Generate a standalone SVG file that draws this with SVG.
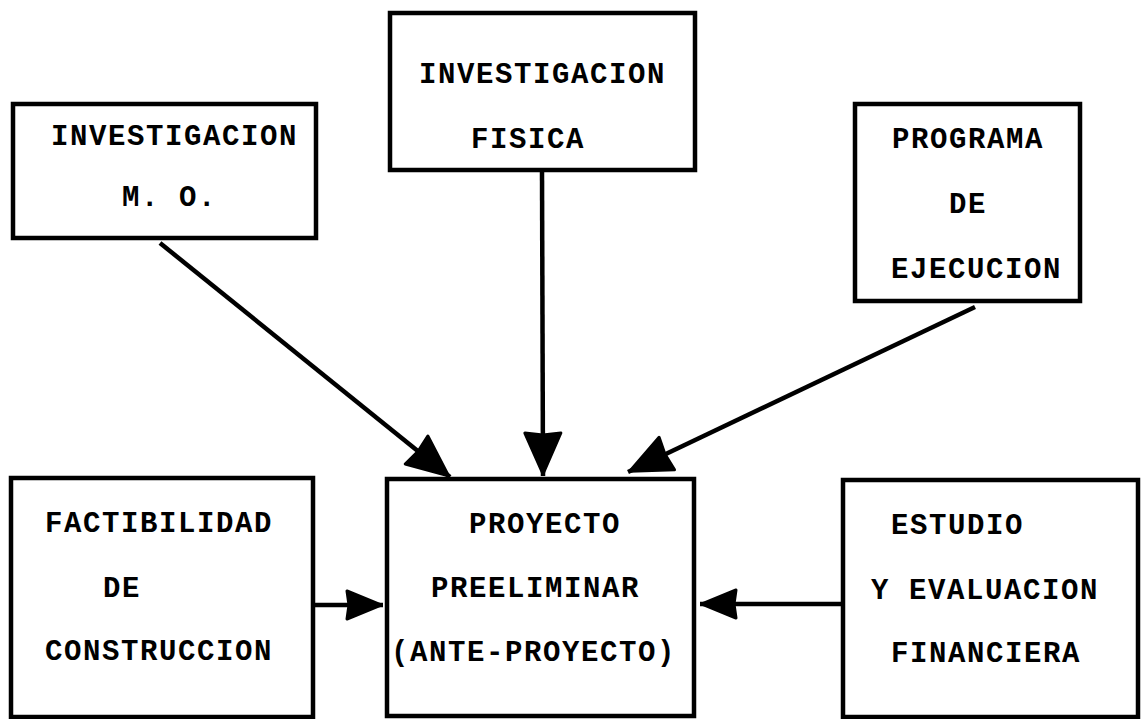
<svg xmlns="http://www.w3.org/2000/svg" width="1142" height="719" viewBox="0 0 1142 719">
  <style>
    .box { fill: #fff; stroke: #000; stroke-width: 4.5; }
    .lbl { font-family: "Liberation Mono", "DejaVu Sans Mono", monospace; font-size: 29px; font-weight: bold; letter-spacing: 1.6px; fill: #000; }
    .wire { stroke: #000; stroke-width: 4.5; fill: none; }
    .big { marker-end: url(#head); }
    .small { marker-end: url(#head-s); }
    .tip { fill: #000; stroke: #000; stroke-width: 3; stroke-linejoin: round; }
  </style>
  <defs>
    <!-- broad solid arrowheads with blunt corners -->
    <marker id="head" markerUnits="userSpaceOnUse" markerWidth="52" markerHeight="46" refX="46" refY="21" orient="auto">
      <path class="tip" d="M3,3 L44,21 L3,39 L5,21 z"/>
    </marker>
    <marker id="head-s" markerUnits="userSpaceOnUse" markerWidth="44" markerHeight="38" refX="39" refY="17" orient="auto">
      <path class="tip" d="M3,3 L37,17 L3,31 L5,17 z"/>
    </marker>
  </defs>

  <g id="connectors">
    <line class="wire big" x1="160" y1="243" x2="450" y2="477"/>
    <line class="wire big" x1="542" y1="170" x2="543" y2="476"/>
    <line class="wire big" x1="975" y1="307" x2="628" y2="472"/>
    <line class="wire small" x1="308" y1="605" x2="383" y2="605"/>
    <line class="wire small" x1="843" y1="604" x2="700" y2="604"/>
  </g>

  <g id="investigacion-mo">
    <rect class="box" x="13" y="104" width="303" height="134"/>
    <text class="lbl" x="51" y="145">INVESTIGACION</text>
    <text class="lbl" x="122" y="206">M. O.</text>
  </g>

  <g id="investigacion-fisica">
    <rect class="box" x="390" y="13" width="305" height="157"/>
    <text class="lbl" x="419" y="83">INVESTIGACION</text>
    <text class="lbl" x="471" y="148">FISICA</text>
  </g>

  <g id="programa-ejecucion">
    <rect class="box" x="855" y="104" width="225" height="197"/>
    <text class="lbl" x="892" y="148">PROGRAMA</text>
    <text class="lbl" x="949" y="213">DE</text>
    <text class="lbl" x="891" y="278">EJECUCION</text>
  </g>

  <g id="factibilidad">
    <rect class="box" x="11" y="478" width="302" height="239"/>
    <text class="lbl" x="45" y="532">FACTIBILIDAD</text>
    <text class="lbl" x="103" y="597">DE</text>
    <text class="lbl" x="45" y="660">CONSTRUCCION</text>
  </g>

  <g id="proyecto-preeliminar">
    <rect class="box" x="387" y="479" width="307" height="237"/>
    <text class="lbl" x="469" y="533">PROYECTO</text>
    <text class="lbl" x="431" y="597">PREELIMINAR</text>
    <text class="lbl" x="391" y="661">(ANTE-PROYECTO)</text>
  </g>

  <g id="estudio-financiero">
    <rect class="box" x="843" y="480" width="295" height="237"/>
    <text class="lbl" x="891" y="534">ESTUDIO</text>
    <text class="lbl" x="871" y="599">Y EVALUACION</text>
    <text class="lbl" x="891" y="662">FINANCIERA</text>
  </g>
</svg>
